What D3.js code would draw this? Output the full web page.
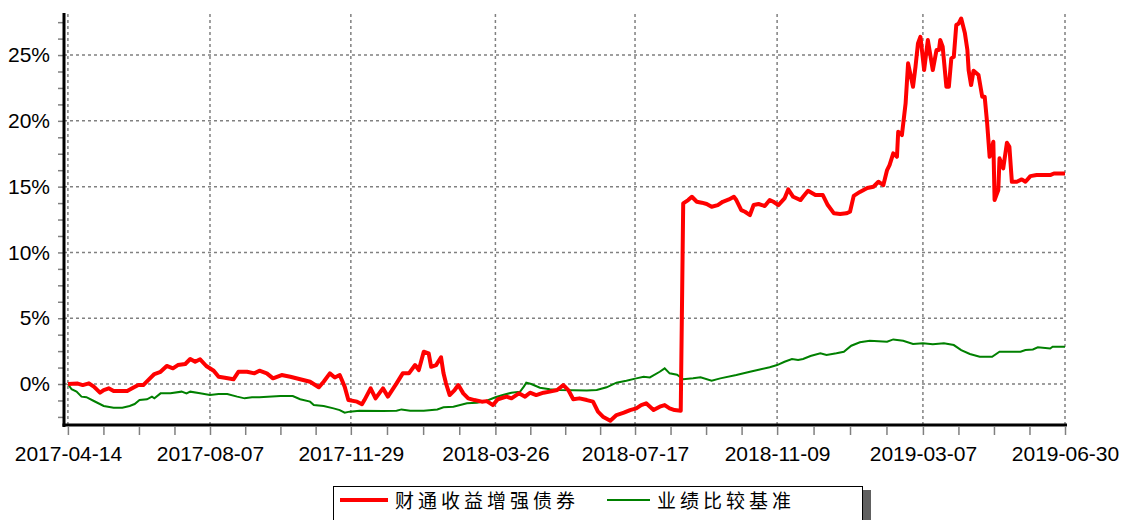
<!DOCTYPE html>
<html>
<head>
<meta charset="utf-8">
<script src="https://cdn.jsdelivr.net/npm/d3@7"></script>
<style>
  body { margin: 0; background: #fff; }
  svg { display: block; }
  .axis text { font-family: "Liberation Sans", Arial, sans-serif; font-size: 21px; fill: #000; }
  .axis line { stroke: #808080; stroke-width: 1.5; }
  .axis path { display: none; }
  .legend text { font-family: "Noto Sans CJK SC", sans-serif; font-size: 19px; letter-spacing: 4px; fill: #000; }
</style>
</head>
<body>
<svg width="1121" height="520"></svg>
<script>
const seriesNames = ['财通收益增强债券', '业绩比较基准'];
const xTickLabels = ['2017-04-14', '2017-08-07', '2017-11-29', '2018-03-26',
  '2018-07-17', '2018-11-09', '2019-03-07', '2019-06-30'];
const yTickLabels = [0, 5, 10, 15, 20, 25];

// 财通收益增强债券 (% return)
const fundDates = ['2017-04-14', '2017-04-22', '2017-04-26', '2017-05-01', '2017-05-05', '2017-05-10',
  '2017-05-13', '2017-05-17', '2017-05-21', '2017-06-01', '2017-06-05', '2017-06-10', '2017-06-14',
  '2017-06-18', '2017-06-23', '2017-06-28', '2017-07-03', '2017-07-08', '2017-07-12', '2017-07-18',
  '2017-07-22', '2017-07-26', '2017-07-30', '2017-08-04', '2017-08-10', '2017-08-14', '2017-08-19',
  '2017-08-26', '2017-08-30', '2017-09-06', '2017-09-12', '2017-09-16', '2017-09-22', '2017-09-27',
  '2017-10-04', '2017-10-11', '2017-10-19', '2017-10-27', '2017-11-03', '2017-11-07', '2017-11-12',
  '2017-11-16', '2017-11-20', '2017-11-24', '2017-11-27', '2017-12-04', '2017-12-08', '2017-12-10',
  '2017-12-15', '2017-12-19', '2017-12-23', '2017-12-25', '2017-12-29', '2018-01-05', '2018-01-10',
  '2018-01-15', '2018-01-20', '2018-01-23', '2018-01-27', '2018-01-31', '2018-02-02', '2018-02-06',
  '2018-02-10', '2018-02-12', '2018-02-14', '2018-02-17', '2018-02-21', '2018-02-24', '2018-02-28',
  '2018-03-04', '2018-03-09', '2018-03-15', '2018-03-19', '2018-03-24', '2018-03-28', '2018-04-04',
  '2018-04-08', '2018-04-14', '2018-04-19', '2018-04-23', '2018-04-28', '2018-05-04', '2018-05-09',
  '2018-05-15', '2018-05-20', '2018-05-24', '2018-05-28', '2018-06-02', '2018-06-08', '2018-06-13',
  '2018-06-17', '2018-06-21', '2018-06-27', '2018-07-02', '2018-07-08', '2018-07-13', '2018-07-18',
  '2018-07-22', '2018-07-26', '2018-08-01', '2018-08-06', '2018-08-10', '2018-08-14', '2018-08-18',
  '2018-08-23', '2018-08-25', '2018-08-29', '2018-09-01', '2018-09-05', '2018-09-09', '2018-09-13',
  '2018-09-17', '2018-09-22', '2018-09-26', '2018-10-01', '2018-10-05', '2018-10-07', '2018-10-11',
  '2018-10-14', '2018-10-18', '2018-10-21', '2018-10-25', '2018-10-30', '2018-11-03', '2018-11-06',
  '2018-11-10', '2018-11-15', '2018-11-18', '2018-11-22', '2018-11-28', '2018-11-30', '2018-12-04',
  '2018-12-10', '2018-12-16', '2018-12-20', '2018-12-25', '2018-12-30', '2019-01-04', '2019-01-07',
  '2019-01-10', '2019-01-15', '2019-01-21', '2019-01-26', '2019-01-30', '2019-02-03', '2019-02-06',
  '2019-02-08', '2019-02-11', '2019-02-14', '2019-02-15', '2019-02-18', '2019-02-21', '2019-02-23',
  '2019-02-27', '2019-03-01', '2019-03-03', '2019-03-05', '2019-03-08', '2019-03-11', '2019-03-15',
  '2019-03-18', '2019-03-20', '2019-03-21', '2019-03-23', '2019-03-26', '2019-03-28', '2019-03-30',
  '2019-04-01', '2019-04-03', '2019-04-05', '2019-04-07', '2019-04-10', '2019-04-12', '2019-04-13',
  '2019-04-15', '2019-04-17', '2019-04-21', '2019-04-24', '2019-04-26', '2019-04-28', '2019-04-30',
  '2019-05-03', '2019-05-04', '2019-05-07', '2019-05-08', '2019-05-11', '2019-05-14', '2019-05-16',
  '2019-05-18', '2019-05-22', '2019-05-26', '2019-05-29', '2019-06-02', '2019-06-07', '2019-06-18',
  '2019-06-21', '2019-06-30'];
const fundValues = [0.00, 0.03, -0.08, 0.05, -0.20, -0.66,
  -0.46, -0.33, -0.53, -0.53, -0.33, -0.08, -0.08,
  0.30, 0.76, 0.93, 1.37, 1.19, 1.44, 1.52,
  1.90, 1.69, 1.88, 1.37, 1.01, 0.55, 0.48,
  0.36, 0.93, 0.93, 0.81, 1.01, 0.81, 0.43,
  0.68, 0.55, 0.36, 0.17, -0.25, 0.17, 0.81,
  0.50, 0.68, -0.20, -1.22, -1.34, -1.54, -1.22,
  -0.33, -1.09, -0.58, -0.33, -0.96, 0.05, 0.81,
  0.81, 1.44, 1.06, 2.45, 2.33, 1.31, 1.44,
  2.03, 0.81, 0.05, -0.84, -0.46, -0.08, -0.71,
  -1.09, -1.22, -1.34, -1.30, -1.60, -1.16, -0.96,
  -1.09, -0.71, -0.96, -0.66, -0.84, -0.66, -0.58,
  -0.46, -0.08, -0.46, -1.16, -1.09, -1.22, -1.34,
  -2.10, -2.48, -2.79, -2.36, -2.18, -1.98, -1.85,
  -1.60, -1.47, -1.98, -1.72, -1.60, -1.85, -1.98,
  -2.03, 13.73, 13.98, 14.23, 13.85, 13.78, 13.68,
  13.47, 13.60, 13.85, 14.03, 14.23, 13.98, 13.22,
  13.09, 12.84, 13.60, 13.68, 13.53, 13.98, 13.85,
  13.60, 14.10, 14.79, 14.23, 13.98, 14.23, 14.69,
  14.36, 14.36, 13.60, 12.97, 12.92, 12.97, 13.09,
  14.30, 14.60, 14.90, 14.99, 15.37, 15.12, 16.26,
  16.64, 17.53, 17.27, 19.17, 18.92, 21.33, 24.37,
  22.59, 24.11, 25.89, 26.39, 23.86, 26.14, 23.86,
  25.38, 25.38, 26.14, 25.63, 22.59, 22.59, 24.75,
  24.87, 27.28, 27.40, 27.78, 26.65, 25.38, 23.86,
  22.72, 23.81, 23.48, 21.83, 21.83, 19.81, 17.27,
  18.41, 13.98, 14.74, 17.15, 16.39, 18.34, 18.03,
  15.37, 15.37, 15.55, 15.37, 15.80, 15.88, 15.88,
  16.00, 16.00];

// 业绩比较基准 (% return)
const benchDates = ['2017-04-14', '2017-04-17', '2017-04-21', '2017-04-25', '2017-04-29', '2017-05-05',
  '2017-05-13', '2017-05-21', '2017-05-28', '2017-06-03', '2017-06-07', '2017-06-11', '2017-06-17',
  '2017-06-21', '2017-06-23', '2017-06-28', '2017-07-06', '2017-07-15', '2017-07-19', '2017-07-22',
  '2017-07-30', '2017-08-07', '2017-08-14', '2017-08-21', '2017-08-29', '2017-09-04', '2017-09-10',
  '2017-09-16', '2017-10-03', '2017-10-13', '2017-10-19', '2017-10-27', '2017-10-30', '2017-11-07',
  '2017-11-15', '2017-11-20', '2017-11-24', '2017-11-28', '2017-12-06', '2017-12-25', '2018-01-05',
  '2018-01-09', '2018-01-16', '2018-01-27', '2018-02-07', '2018-02-12', '2018-02-20', '2018-03-03',
  '2018-03-11', '2018-03-19', '2018-03-26', '2018-04-01', '2018-04-08', '2018-04-15', '2018-04-18',
  '2018-04-20', '2018-04-24', '2018-05-01', '2018-05-09', '2018-05-17', '2018-06-08', '2018-06-16',
  '2018-06-24', '2018-07-02', '2018-07-10', '2018-07-18', '2018-07-24', '2018-07-29', '2018-08-06',
  '2018-08-10', '2018-08-14', '2018-08-20', '2018-08-25', '2018-09-02', '2018-09-08', '2018-09-17',
  '2018-09-24', '2018-10-07', '2018-10-18', '2018-10-26', '2018-11-03', '2018-11-09', '2018-11-15',
  '2018-11-21', '2018-11-26', '2018-11-30', '2018-12-06', '2018-12-14', '2018-12-19', '2018-12-27',
  '2019-01-02', '2019-01-08', '2019-01-15', '2019-01-23', '2019-02-06', '2019-02-11', '2019-02-19',
  '2019-02-27', '2019-03-07', '2019-03-15', '2019-03-24', '2019-04-01', '2019-04-07', '2019-04-14',
  '2019-04-22', '2019-05-02', '2019-05-08', '2019-05-25', '2019-05-29', '2019-06-04', '2019-06-08',
  '2019-06-18', '2019-06-20', '2019-06-30'];
const benchValues = [0.00, -0.40, -0.58, -0.96, -1.00, -1.29,
  -1.67, -1.80, -1.80, -1.67, -1.52, -1.22, -1.16,
  -0.96, -1.09, -0.71, -0.71, -0.58, -0.71, -0.58,
  -0.71, -0.84, -0.76, -0.76, -0.96, -1.09, -1.00,
  -1.00, -0.91, -0.91, -1.16, -1.34, -1.60, -1.67,
  -1.85, -1.98, -2.18, -2.10, -2.03, -2.05, -2.03,
  -1.93, -2.03, -2.03, -1.93, -1.77, -1.72, -1.47,
  -1.42, -1.27, -1.01, -0.84, -0.66, -0.58, -0.20,
  0.10, 0.00, -0.28, -0.40, -0.46, -0.50, -0.46,
  -0.25, 0.10, 0.25, 0.43, 0.55, 0.50, 0.93,
  1.19, 0.81, 0.70, 0.36, 0.43, 0.51, 0.25,
  0.43, 0.68, 0.93, 1.11, 1.27, 1.44, 1.69,
  1.90, 1.82, 1.90, 2.13, 2.33, 2.20, 2.33,
  2.45, 2.91, 3.17, 3.29, 3.21, 3.39, 3.29,
  3.04, 3.10, 3.02, 3.10, 2.96, 2.58, 2.28,
  2.07, 2.07, 2.45, 2.45, 2.58, 2.63, 2.79,
  2.70, 2.83, 2.83];

const parse = d3.timeParse('%Y-%m-%d');
const svg = d3.select('svg');

const x = d3.scaleTime()
  .domain([parse(xTickLabels[0]), parse(xTickLabels[xTickLabels.length - 1])])
  .range([67.9, 1065]);
const y = d3.scaleLinear().domain([-3.115, 28.12]).range([425, 14]);

const majorDates = xTickLabels.map(parse);
// 4 small steps between each pair of labelled dates
const minorDates = [];
majorDates.forEach((d, i) => {
  if (i === majorDates.length - 1) { minorDates.push(d); return; }
  const step = d3.interpolateDate(d, majorDates[i + 1]);
  // interpolateDate hands back the same Date object each time, so copy it
  [0, 0.25, 0.5, 0.75].forEach((t) => minorDates.push(new Date(+step(t))));
});
const minorY = d3.range(-2.5, 27.6, 1.25);

// grid
svg.append('g')
  .selectAll('line')
  .data(yTickLabels)
  .enter()
  .append('line')
    .attr('x1', 64).attr('x2', x.range()[1])
    .attr('y1', (d) => y(d)).attr('y2', (d) => y(d))
    .attr('stroke', '#808080')
    .attr('stroke-width', 1.5)
    .attr('stroke-dasharray', '3,3')
;
svg.append('g')
  .selectAll('line')
  .data(majorDates)
  .enter()
  .append('line')
    .attr('x1', (d) => x(d)).attr('x2', (d) => x(d))
    .attr('y1', 14).attr('y2', 425)
    .attr('stroke', '#808080')
    .attr('stroke-width', 1.5)
    .attr('stroke-dasharray', '3,3')
;

// axes
const fmtDate = d3.timeFormat('%Y-%m-%d');
const majorSet = new Set(xTickLabels);
svg.append('g')
    .attr('class', 'axis')
    .attr('transform', 'translate(0,427)')
  .call(d3.axisBottom(x)
    .tickValues(minorDates)
    .tickSize(8)
    .tickPadding(11)
    .tickFormat((d) => majorSet.has(fmtDate(d)) ? fmtDate(d) : ''))
;
svg.append('g')
    .attr('class', 'axis')
    .attr('transform', 'translate(63,0)')
  .call(d3.axisLeft(y)
    .tickValues(minorY)
    .tickSize(5)
    .tickPadding(8)
    .tickFormat((d) => yTickLabels.includes(d) ? d + '%' : ''))
;

svg.append('line')
    .attr('x1', 64).attr('x2', 64).attr('y1', 13).attr('y2', 427)
    .attr('stroke', '#000').attr('stroke-width', 3)
;
svg.append('line')
    .attr('x1', 62.5).attr('x2', 1067).attr('y1', 425).attr('y2', 425)
    .attr('stroke', '#000').attr('stroke-width', 3)
;

// lines
const line = d3.line()
  .x((d) => x(d[0]))
  .y((d) => y(d[1]));

const benchData = benchDates.map((d, i) => [parse(d), benchValues[i]]);
const fundData = fundDates.map((d, i) => [parse(d), fundValues[i]]);

svg.append('path')
    .datum(benchData)
    .attr('d', line)
    .attr('fill', 'none')
    .attr('stroke', '#008000')
    .attr('stroke-width', 2)
;
svg.append('path')
    .datum(fundData)
    .attr('d', line)
    .attr('fill', 'none')
    .attr('stroke', '#ff0000')
    .attr('stroke-width', 4)
    .attr('stroke-linejoin', 'round')
;

// legend
const legend = svg.append('g').attr('class', 'legend');
legend.append('rect')
    .attr('x', 338).attr('y', 490).attr('width', 533).attr('height', 40)
    .attr('fill', '#606060')
;
legend.append('rect')
    .attr('x', 333.5).attr('y', 486.5).attr('width', 529).attr('height', 40)
    .attr('fill', '#fff').attr('stroke', '#000').attr('stroke-width', 1)
;
const legendItems = [
  { name: seriesNames[0], color: '#ff0000', width: 4, x1: 340, x2: 388 },
  { name: seriesNames[1], color: '#008000', width: 2, x1: 607, x2: 650 },
];
legendItems.forEach(function (e) {
  legend.append('line')
      .attr('x1', e.x1).attr('x2', e.x2).attr('y1', 500).attr('y2', 500)
      .attr('stroke', e.color).attr('stroke-width', e.width)
  ;
  legend.append('text')
      .text(e.name)
      .attr('x', e.x2 + 7)
      .attr('y', 499)
      .attr('dominant-baseline', 'central')
  ;
});
</script>
</body>
</html>
